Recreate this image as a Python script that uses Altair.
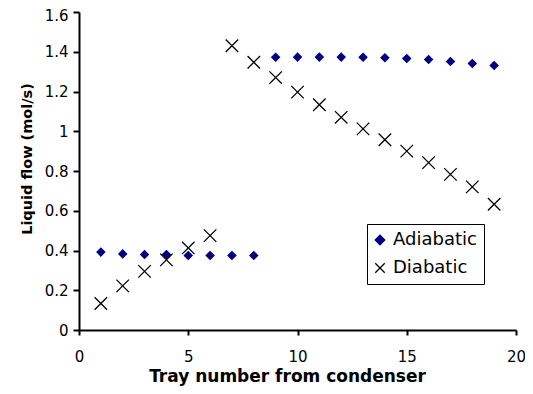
import altair as alt
import pandas as pd

trays = list(range(1, 20))
adiabatic = [0.392, 0.383, 0.380, 0.380, 0.375, 0.375, 0.375, 0.375,
             1.372, 1.373, 1.373, 1.373, 1.372, 1.370, 1.366, 1.361, 1.351, 1.341, 1.331]
diabatic = [0.133, 0.222, 0.295, 0.353, 0.413, 0.475, 1.430, 1.347, 1.270, 1.197,
            1.133, 1.070, 1.012, 0.957, 0.900, 0.842, 0.783, 0.720, 0.633]
series_names = ["Adiabatic", "Diabatic"]
x_ticks = [0, 5, 10, 15, 20]
y_ticks = [0, 0.2, 0.4, 0.6, 0.8, 1.0, 1.2, 1.4, 1.6]

df = pd.concat([
    pd.DataFrame({"tray": trays, "flow": adiabatic, "series": series_names[0]}),
    pd.DataFrame({"tray": trays, "flow": diabatic, "series": series_names[1]}),
])

FONT = "DejaVu Sans"
xpath = "M-1,-1L1,1M-1,1L1,-1"

legend = alt.Legend(
    title=None, orient="none", legendX=288, legendY=212,
    strokeColor="black", fillColor="white", padding=7,
    labelFont=FONT, labelFontSize=18, labelColor="black",
    symbolSize=90, symbolStrokeWidth=1.3, rowPadding=10, labelOffset=4,
    symbolOffset=-3,
)

chart = alt.Chart(df).mark_point(filled=True, strokeWidth=1.3, opacity=1).encode(
    x=alt.X("tray:Q", scale=alt.Scale(domain=[0, 20], nice=False),
            axis=alt.Axis(values=x_ticks, title="Tray number from condenser",
                          labelPadding=14, tickSize=5, titleX=208, titleY=38,
                          titleBaseline="top", labelFlush=False)),
    y=alt.Y("flow:Q", scale=alt.Scale(domain=[0, 1.6], nice=False),
            axis=alt.Axis(values=y_ticks, format="~g", title="Liquid flow (mol/s)",
                          labelPadding=5, tickSize=6, titleX=-52, titleY=146.5,
                          titleBaseline="middle", titleFontSize=14.5, labelFlush=False,
                          labelOffset=alt.condition("datum.value >= 1.59", alt.value(3.5), alt.value(0)))),
    color=alt.Color("series:N", scale=alt.Scale(domain=series_names, range=["#000080", "black"]),
                    legend=legend),
    stroke=alt.Stroke("series:N", scale=alt.Scale(domain=series_names, range=["#000080", "black"]),
                      legend=legend),
    shape=alt.Shape("series:N", scale=alt.Scale(domain=series_names, range=["diamond", xpath]),
                    legend=legend),
    size=alt.condition(alt.datum.series == "Diabatic", alt.value(156), alt.value(60)),
).properties(
    width=437, height=318,
    padding={"left": 71, "top": 4, "right": 9, "bottom": 56},
    autosize=alt.AutoSizeParams(type="none"),
).configure_view(stroke="transparent").configure_axis(
    grid=False, domainColor="black", domainWidth=2, tickColor="black", tickWidth=2,
    labelFont=FONT, labelFontSize=15, labelColor="black",
    titleFont=FONT, titleFontSize=17, titleFontWeight="bold", titleColor="black",
)

chart.save("out.html", embed_options={"renderer": "svg", "actions": False})
